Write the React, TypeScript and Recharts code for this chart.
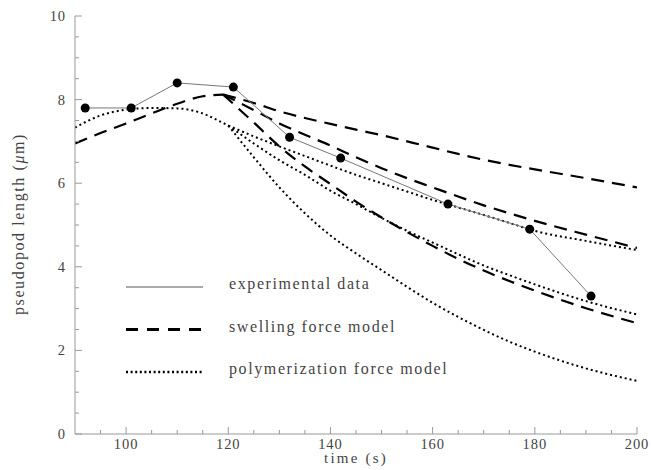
import React from 'react';
import { LineChart, Line, XAxis, YAxis, Legend } from 'recharts';

// experimental data points
const expTime = [92, 101, 110, 121, 132, 142, 163, 179, 191];
const expLength = [7.8, 7.8, 8.4, 8.3, 7.1, 6.6, 5.5, 4.9, 3.3];

// swelling force model (dashed)
const swellRiseTime = [90, 95, 100, 105, 110, 115, 119];
const swellRise = [6.95, 7.2, 7.43, 7.67, 7.9, 8.08, 8.12];
const swellTime = [119, 125, 130, 135, 140, 145, 150, 155, 160, 165, 170, 175, 180, 190, 200];
const swellUpper = [8.12, 7.92, 7.72, 7.56, 7.42, 7.28, 7.15, 7.0, 6.85, 6.7, 6.56, 6.44, 6.33, 6.12, 5.9];
const swellMiddle = [8.12, 7.75, 7.43, 7.16, 6.9, 6.62, 6.36, 6.12, 5.9, 5.68, 5.47, 5.28, 5.1, 4.77, 4.45];
const swellLower = [8.12, 7.45, 6.88, 6.4, 5.98, 5.56, 5.18, 4.83, 4.5, 4.19, 3.91, 3.66, 3.43, 3.01, 2.65];

// polymerization force model (dotted)
const polyRiseTime = [90, 95, 100, 105, 110, 113, 116, 118, 120];
const polyRise = [7.33, 7.62, 7.76, 7.8, 7.79, 7.74, 7.62, 7.5, 7.38];
const polyTime = [120, 125, 130, 135, 140, 145, 150, 155, 160, 165, 170, 175, 180, 190, 200];
const polyUpper = [7.38, 7.12, 6.88, 6.65, 6.42, 6.2, 6.0, 5.8, 5.6, 5.42, 5.24, 5.05, 4.86, 4.62, 4.4];
const polyMiddle = [7.38, 6.95, 6.55, 6.2, 5.82, 5.5, 5.17, 4.86, 4.58, 4.3, 4.03, 3.8, 3.58, 3.18, 2.86];
const polyLower = [7.38, 6.62, 5.9, 5.28, 4.75, 4.32, 3.92, 3.52, 3.14, 2.8, 2.49, 2.21, 1.97, 1.57, 1.27];

// axes
const xTicks = [95, 100, 105, 110, 115, 120, 125, 130, 135, 140, 145, 150, 155, 160, 165, 170, 175, 180, 185, 190, 195, 200];
const xLabels = [100, 120, 140, 160, 180, 200];
const yTicks = [0, 0.5, 1, 1.5, 2, 2.5, 3, 3.5, 4, 4.5, 5, 5.5, 6, 6.5, 7, 7.5, 8, 8.5, 9, 9.5, 10];
const yLabels = [0, 2, 4, 6, 8, 10];

const legendLabels = ['experimental data', 'swelling force model', 'polymerization force model'];

const FONT = '"Liberation Serif", "Times New Roman", serif';
const AXIS = '#999';
const TEXT = '#444';

const pts = (ts: number[], vs: number[]) => ts.map((t, i) => ({ t, v: vs[i] }));

const BottomTick = (props: any) => {
  const { x, y, payload } = props;
  const major = xLabels.includes(payload.value);
  return (
    <g>
      <line x1={x} x2={x} y1={y} y2={y - (major ? 7 : 4)} stroke={AXIS} />
      {major && (
        <text x={x} y={y + 15} textAnchor="middle" fontSize={14.5} letterSpacing={0.9} fontFamily={FONT} fill={TEXT}>
          {payload.value}
        </text>
      )}
    </g>
  );
};

const TopTick = (props: any) => {
  const { x, y, payload } = props;
  const major = xLabels.includes(payload.value);
  return <line x1={x} x2={x} y1={y} y2={y + (major ? 7 : 4)} stroke={AXIS} />;
};

const LeftTick = (props: any) => {
  const { x, y, payload } = props;
  const major = yLabels.includes(payload.value);
  return (
    <g>
      <line x1={x} x2={x + (major ? 7 : 4)} y1={y} y2={y} stroke={AXIS} />
      {major && (
        <text x={x - 9} y={y} dy="0.35em" textAnchor="end" fontSize={14.5} letterSpacing={0.9} fontFamily={FONT} fill={TEXT}>
          {payload.value}
        </text>
      )}
    </g>
  );
};

const RightTick = (props: any) => {
  const { x, y, payload } = props;
  const major = yLabels.includes(payload.value);
  return <line x1={x} x2={x - (major ? 7 : 4)} y1={y} y2={y} stroke={AXIS} />;
};

const YTitle = () => (
  <text
    transform="translate(24,224) rotate(-90)"
    textAnchor="middle"
    fontSize={16}
    letterSpacing={1.6}
    fontFamily={FONT}
    fill={TEXT}
  >
    pseudopod length (<tspan fontStyle="italic">μ</tspan>m)
  </text>
);

const XTitle = () => (
  <text x={356} y={463} textAnchor="middle" fontSize={15} letterSpacing={2.2} fontFamily={FONT} fill={TEXT}>
    time (s)
  </text>
);

const LegendBox = () => (
  <svg width={360} height={130} style={{ display: 'block' }}>
    {legendLabels.map((label, i) => {
      const cy = 21 + i * 42.5;
      const lineProps =
        i === 0
          ? { stroke: '#aaa', strokeWidth: 2 }
          : i === 1
          ? { stroke: '#000', strokeWidth: 3, strokeDasharray: '12 9' }
          : { stroke: '#000', strokeWidth: 2.5, strokeDasharray: '2 2.6' };
      return (
        <g key={label}>
          <line x1={0} x2={77} y1={cy} y2={cy} {...lineProps} />
          <text x={103} y={cy} dy="0.15em" fontSize={16} letterSpacing={1.6} fontFamily={FONT} fill={TEXT}>
            {label}
          </text>
        </g>
      );
    })}
  </svg>
);

const dashed = { stroke: '#000', strokeWidth: 2.2, strokeDasharray: '13 8' };
const dotted = { stroke: '#000', strokeWidth: 2, strokeDasharray: '2 3' };

export default function App() {
  return (
    <div style={{ position: 'absolute', left: 0, top: 0, background: '#fff' }}>
      <LineChart width={651} height={470} margin={{ top: 16, right: 14, bottom: 0, left: 0 }}>
        <XAxis
          dataKey="t"
          type="number"
          domain={[90, 200]}
          ticks={xTicks}
          interval={0}
          height={36}
          tickSize={0}
          tickMargin={0}
          tick={<BottomTick />}
          tickLine={false}
          axisLine={{ stroke: AXIS }}
          allowDataOverflow
          label={<XTitle />}
        />
        <XAxis
          xAxisId="top"
          orientation="top"
          type="number"
          domain={[90, 200]}
          ticks={xTicks}
          interval={0}
          height={0}
          tickSize={0}
          tickMargin={0}
          tick={<TopTick />}
          tickLine={false}
          axisLine={{ stroke: AXIS }}
          allowDataOverflow
        />
        <YAxis
          type="number"
          domain={[0, 10]}
          ticks={yTicks}
          interval={0}
          width={75}
          tickSize={0}
          tickMargin={0}
          tick={<LeftTick />}
          tickLine={false}
          axisLine={{ stroke: AXIS }}
          allowDataOverflow
          label={<YTitle />}
        />
        <YAxis
          yAxisId="right"
          orientation="right"
          type="number"
          domain={[0, 10]}
          ticks={yTicks}
          interval={0}
          width={0}
          tickSize={0}
          tickMargin={0}
          tick={<RightTick />}
          tickLine={false}
          axisLine={{ stroke: AXIS }}
          allowDataOverflow
        />
        <Legend
          layout="vertical"
          align="center"
          verticalAlign="middle"
          wrapperStyle={{ left: 126, top: 266, width: 360, height: 130 }}
          content={<LegendBox />}
        />

        <Line data={pts(swellRiseTime, swellRise)} dataKey="v" type="monotone" dot={false} {...dashed} isAnimationActive={false} />
        <Line data={pts(swellTime, swellUpper)} dataKey="v" type="monotone" dot={false} {...dashed} isAnimationActive={false} />
        <Line data={pts(swellTime, swellMiddle)} dataKey="v" type="monotone" dot={false} {...dashed} isAnimationActive={false} />
        <Line data={pts(swellTime, swellLower)} dataKey="v" type="monotone" dot={false} {...dashed} isAnimationActive={false} />

        <Line data={pts(polyRiseTime, polyRise)} dataKey="v" type="monotone" dot={false} {...dotted} isAnimationActive={false} />
        <Line data={pts(polyTime, polyUpper)} dataKey="v" type="monotone" dot={false} {...dotted} isAnimationActive={false} />
        <Line data={pts(polyTime, polyMiddle)} dataKey="v" type="monotone" dot={false} {...dotted} isAnimationActive={false} />
        <Line data={pts(polyTime, polyLower)} dataKey="v" type="monotone" dot={false} {...dotted} isAnimationActive={false} />

        <Line
          data={pts(expTime, expLength)}
          dataKey="v"
          type="linear"
          stroke="#777"
          strokeWidth={1}
          dot={{ r: 4.5, fill: '#000', stroke: '#000', strokeWidth: 0 }}
          isAnimationActive={false}
        />
      </LineChart>
    </div>
  );
}
